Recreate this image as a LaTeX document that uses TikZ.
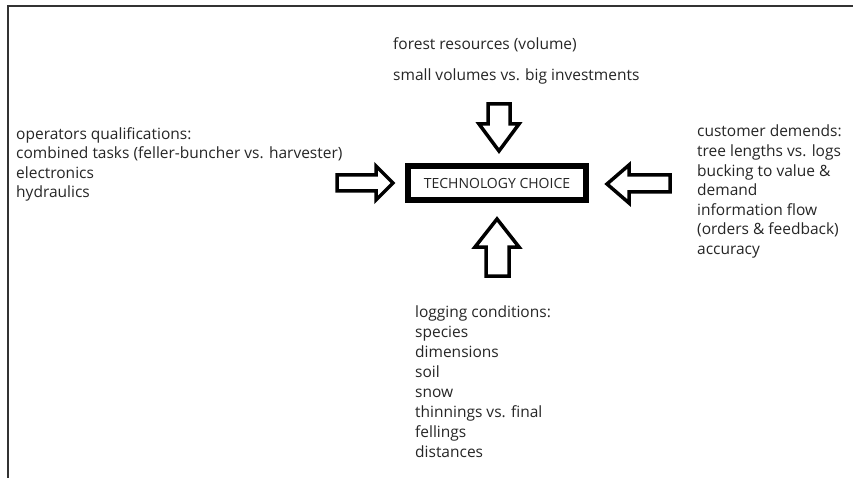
\documentclass[tikz,border=0pt]{standalone}
\usepackage{fontspec}
\setmainfont{Open Sans}
\newfontfamily\boxfont{Open Sans}
\begin{document}
\begin{tikzpicture}[x=1pt,y=-1pt,
  lbl/.style={anchor=north west, inner sep=0pt, align=left, text=black!85,
    font=\fontsize{15.5}{19.6}\selectfont},
  blockarrow/.style={draw=black, fill=white, line width=3.5pt, line join=miter},
  frame/.style={draw=black!80, line width=2pt}]
\useasboundingbox (0,0) rectangle (853,478);
\fill[white] (0,0) rectangle (853,478);
\draw[frame] (8,478) -- (8,6) -- (853,6);

% central box
\node[draw=black, line width=6pt, minimum width=178pt, minimum height=34pt,
  inner sep=0pt, font=\boxfont\fontsize{14}{16}\selectfont, text=black!85]
  (tc) at (497,183) {TECHNOLOGY CHOICE};

% block arrows
\coordinate (ta) at (499,151);
\draw[blockarrow] (ta) -- ++(20,-27) -- ++(-9,0) -- ++(0,-20) -- ++(-22,0) -- ++(0,20) -- ++(-9,0) -- cycle;
\coordinate (ba) at (497,219);
\draw[blockarrow] (ba) -- ++(22,28) -- ++(-10,0) -- ++(0,29) -- ++(-23,0) -- ++(0,-29) -- ++(-11,0) -- cycle;
\coordinate (la) at (393,183);
\draw[blockarrow] (la) -- ++(-17,17) -- ++(0,-9) -- ++(-39,0) -- ++(0,-16) -- ++(39,0) -- ++(0,-9) -- cycle;
\coordinate (ra) at (607,184);
\draw[blockarrow] (ra) -- ++(22,-19) -- ++(0,10) -- ++(41,0) -- ++(0,17) -- ++(-41,0) -- ++(0,11) -- cycle;

% texts
\node[lbl] (top) at (393,37.5) {forest resources (volume)\\[11.5pt]small volumes vs. big investments};
\node[lbl] (left) at (16,127) {operators qualifications:\\combined tasks (feller-buncher vs. harvester)\\electronics\\hydraulics};
\node[lbl] (right) at (697,125) {customer demends:\\tree lengths vs. logs\\bucking to value \&\\demand\\information flow\\(orders \& feedback)\\accuracy};
\node[lbl, font=\fontsize{15.5}{20}\selectfont] (bottom) at (415,306) {logging conditions:\\species\\dimensions\\soil\\snow\\thinnings vs. final\\fellings\\distances};
\end{tikzpicture}
\end{document}
